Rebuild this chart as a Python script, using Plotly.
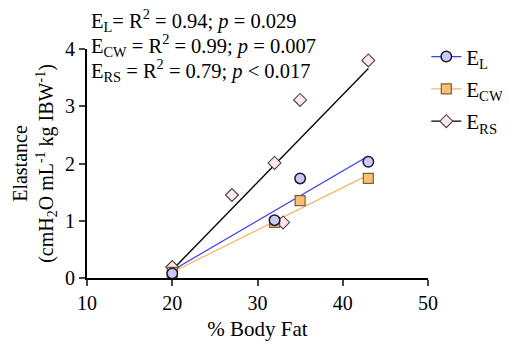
import plotly.graph_objects as go

# Data
body_fat_el = [20, 32, 35, 43]
el_values = [0.08, 1.01, 1.74, 2.03]
body_fat_ecw = [20, 32, 35, 43]
ecw_values = [0.10, 0.97, 1.35, 1.74]
body_fat_ers = [20, 27, 32, 33, 35, 43]
ers_values = [0.19, 1.45, 2.01, 0.97, 3.11, 3.80]

fit_x = [20, 43]
fit_el = [0.13, 2.13]
fit_ecw = [0.10, 1.80]
fit_ers = [0.14, 3.66]

x_ticks = [10, 20, 30, 40, 50]
y_ticks = [0, 1, 2, 3, 4]

FONT = "'Liberation Serif', 'Times New Roman', Times, serif"

c_el_line = "#3b3bf0"
c_ecw_line = "#f7b468"
c_ers_line = "#000000"

m_el = dict(symbol="circle", size=10.5, color="#c9c9f5", line=dict(color="#1a1a2a", width=1.5))
m_ecw = dict(symbol="square", size=10, color="#fbbf72", line=dict(color="#7a6040", width=1.2))
m_ers = dict(symbol="diamond", size=10, color="#fbe8e8", line=dict(color="#4a4040", width=1.1))

fig = go.Figure()

# fit lines
fig.add_trace(go.Scatter(x=fit_x, y=fit_ers, mode="lines", line=dict(color=c_ers_line, width=1.3), showlegend=False, hoverinfo="skip"))
fig.add_trace(go.Scatter(x=fit_x, y=fit_ecw, mode="lines", line=dict(color=c_ecw_line, width=1.3), showlegend=False, hoverinfo="skip"))
fig.add_trace(go.Scatter(x=fit_x, y=fit_el, mode="lines", line=dict(color=c_el_line, width=1.3), showlegend=False, hoverinfo="skip"))

# data points
fig.add_trace(go.Scatter(x=body_fat_ers, y=ers_values, mode="markers", marker=m_ers, showlegend=False))
fig.add_trace(go.Scatter(x=body_fat_ecw, y=ecw_values, mode="markers", marker=m_ecw, showlegend=False))
fig.add_trace(go.Scatter(x=body_fat_el, y=el_values, mode="markers", marker=m_el, showlegend=False))

# legend entries
fig.add_trace(go.Scatter(x=[None], y=[None], mode="lines+markers", name="E<sub>L</sub>",
                         line=dict(color=c_el_line, width=1.3), marker=m_el, legendgroup="a"))
fig.add_trace(go.Scatter(x=[None], y=[None], mode="lines+markers", name="E<sub>CW</sub>",
                         line=dict(color=c_ecw_line, width=1.3), marker=m_ecw, legendgroup="b"))
fig.add_trace(go.Scatter(x=[None], y=[None], mode="lines+markers", name="E<sub>RS</sub>",
                         line=dict(color=c_ers_line, width=1.3), marker=m_ers, legendgroup="c"))

ann_lines = [
    "E<sub>L</sub>= R<sup>2</sup> = 0.94; <i>p</i> = 0.029",
    "E<sub>CW</sub> = R<sup>2</sup> = 0.99; <i>p</i> = 0.007",
    "E<sub>RS</sub> = R<sup>2</sup> = 0.79; <i>p</i> &lt; 0.017",
]
ann_y = [1.1223, 1.0153, 0.908]
annotations = [
    dict(text=t, x=0.006, y=yy, xref="paper", yref="paper", xanchor="left", yanchor="middle",
         showarrow=False, font=dict(family=FONT, size=20.5, color="black"))
    for t, yy in zip(ann_lines, ann_y)
]

fig.update_layout(
    width=502, height=344,
    margin=dict(l=79, r=82, t=41, b=74, autoexpand=False),
    paper_bgcolor="white", plot_bgcolor="white",
    font=dict(family=FONT, size=20, color="black"),
    showlegend=True,
    legend=dict(x=0.995, y=1.055, xanchor="left", yanchor="top",
                font=dict(family=FONT, size=21), traceorder="grouped",
                tracegroupgap=2, bgcolor="rgba(0,0,0,0)"),
    annotations=annotations,
    xaxis=dict(range=[10, 50], tickvals=x_ticks, ticks="outside", ticklen=6, tickwidth=2,
               showline=True, linecolor="black", linewidth=2, showgrid=False, zeroline=False,
               automargin=False,
               title=dict(text="% Body Fat", standoff=8, font=dict(family=FONT, size=21)),
               tickfont=dict(family=FONT, size=20)),
    yaxis=dict(range=[0, 4], tickvals=y_ticks, ticks="outside", ticklen=6, tickwidth=2,
               showline=True, linecolor="black", linewidth=2, showgrid=False, zeroline=False,
               automargin=False,
               title=dict(text="Elastance<br>(cmH<sub>2</sub>O mL<sup>-1</sup> kg IBW<sup>-1</sup>)",
                          standoff=6, font=dict(family=FONT, size=20)),
               tickfont=dict(family=FONT, size=20)),
)

fig.write_html("out.html")
